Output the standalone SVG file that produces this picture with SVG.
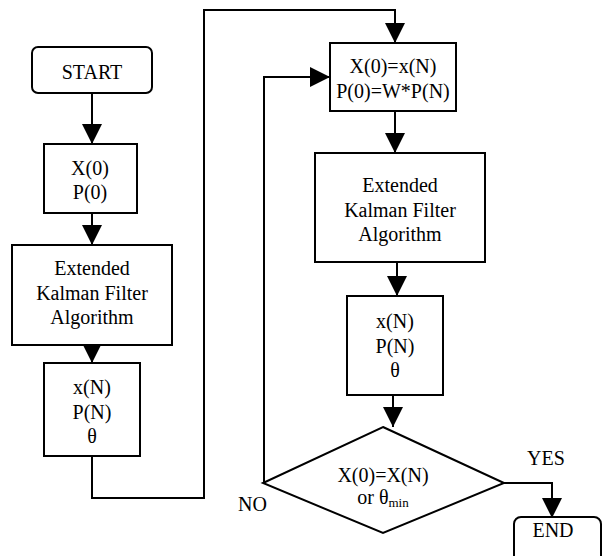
<svg xmlns="http://www.w3.org/2000/svg" width="602" height="556" viewBox="0 0 602 556">
<style>
.box{fill:#fff;stroke:#000;stroke-width:2}
.ln{fill:none;stroke:#000;stroke-width:2}
text{font-family:"Liberation Serif","Times New Roman",serif;font-size:20px;fill:#000}
.c{text-anchor:middle}
</style>
<defs>
<marker id="ah" markerUnits="userSpaceOnUse" markerWidth="21" markerHeight="21" refX="20" refY="10" orient="auto" viewBox="0 0 21 21">
<path d="M0,0 L20,10 L0,20 z" fill="#000"/>
</marker>
</defs>
<rect width="602" height="556" fill="#fff"/>
<g id="connectors">
<line class="ln" x1="92" y1="93" x2="92" y2="144" marker-end="url(#ah)"/>
<line class="ln" x1="92" y1="213" x2="92" y2="245" marker-end="url(#ah)"/>
<line class="ln" x1="92" y1="334" x2="92" y2="363" marker-end="url(#ah)"/>
<polyline class="ln" points="92,456 92,498 204,498 204,10 395,10 395,43" marker-end="url(#ah)"/>
<line class="ln" x1="395" y1="111" x2="395" y2="153" marker-end="url(#ah)"/>
<line class="ln" x1="397" y1="254" x2="397" y2="296" marker-end="url(#ah)"/>
<line class="ln" x1="393" y1="395" x2="393" y2="427" marker-end="url(#ah)"/>
<polyline class="ln" points="264,483 264,77 330,77" marker-end="url(#ah)"/>
<polyline class="ln" points="504,483 552,483 552,518" marker-end="url(#ah)"/>
</g>
<g id="start">
<rect class="box" x="32" y="47" width="120" height="46" rx="6"/>
<text class="c" x="92" y="79">START</text>
</g>
<g id="init">
<rect class="box" x="44" y="144" width="93" height="69"/>
<text class="c" x="90" y="175">X(0)</text>
<text class="c" x="90" y="199">P(0)</text>
</g>
<g id="ekf1">
<rect class="box" x="12" y="245" width="160" height="100"/>
<text class="c" x="92" y="275">Extended</text>
<text class="c" x="92" y="300">Kalman Filter</text>
<text class="c" x="92" y="324">Algorithm</text>
</g>
<g id="out1">
<rect class="box" x="44" y="363" width="96" height="93"/>
<text class="c" x="92" y="394">x(N)</text>
<text class="c" x="92" y="419">P(N)</text>
<text class="c" x="92" y="443">θ</text>
</g>
<g id="reinit">
<rect class="box" x="330" y="43" width="126" height="68"/>
<text class="c" x="393" y="73">X(0)=x(N)</text>
<text class="c" x="393" y="98">P(0)=W*P(N)</text>
</g>
<g id="ekf2">
<rect class="box" x="315" y="153" width="170" height="109"/>
<text class="c" x="400" y="192">Extended</text>
<text class="c" x="400" y="217">Kalman Filter</text>
<text class="c" x="400" y="241">Algorithm</text>
</g>
<g id="out2">
<rect class="box" x="347" y="296" width="96" height="99"/>
<text class="c" x="395" y="328">x(N)</text>
<text class="c" x="395" y="353">P(N)</text>
<text class="c" x="395" y="377">θ</text>
</g>
<g id="decision">
<polygon class="box" points="383,427 504,483 383,533 263,483"/>
<text class="c" x="383" y="482">X(0)=X(N)</text>
<text class="c" x="383" y="504">or θ<tspan font-size="13" dy="3">min</tspan></text>
</g>
<g id="end">
<rect class="box" x="514" y="517" width="87" height="60" rx="7"/>
<text class="c" x="553" y="537">END</text>
</g>
<g id="labels">
<text x="527" y="465">YES</text>
<text x="238" y="511">NO</text>
</g>
</svg>
